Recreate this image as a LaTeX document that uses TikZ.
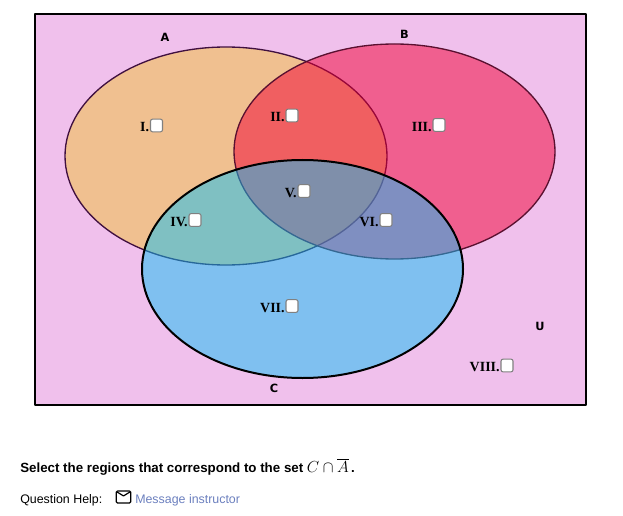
\documentclass[tikz,border=0pt]{standalone}
\usepackage{fontspec}
\setmainfont{Liberation Serif}
\setsansfont{Liberation Sans}
\newfontfamily\setfont{DejaVu Sans}
\usetikzlibrary{positioning}
\definecolor{universe}{RGB}{240,192,236}
\definecolor{setA}{RGB}{240,192,144}
\definecolor{setB}{RGB}{240,0,52}
\definecolor{setC}{RGB}{16,192,244}
\definecolor{edgeA}{RGB}{64,16,64}
\definecolor{edgeB}{RGB}{90,16,48}
\definecolor{boxedge}{RGB}{128,128,128}
\definecolor{helplink}{RGB}{107,127,190}
\tikzset{%
  every tickbox/.style={
    draw=boxedge,
    fill=white,
    rounded corners=1.5pt,
    line width=0.8pt,
    inner sep=0pt,
    minimum width=9pt,
    minimum height=9.5pt
  },
  region label/.style={
    inner sep=0pt,
    text=black,
    font=\rmfamily\bfseries\fontsize{10.5}{12}\selectfont
  },
  set label/.style={
    inner sep=0pt,
    font=\setfont\bfseries\fontsize{8.5}{10}\selectfont
  },
}

\begin{document}
\begin{tikzpicture}[x=0.75pt, y=-0.75pt, line join=round]

\useasboundingbox (0,0) rectangle (623,516);

\fill [universe] (35,14) rectangle (586,405);

\fill [setA] (226,156) ellipse [x radius=161, y radius=109];
\draw [edgeA, line width=1pt] (226,156) ellipse [x radius=161, y radius=109];

\fill [setB, opacity=0.5] (394.5,151.5) ellipse [x radius=160.5, y radius=107.5];
\draw [edgeB, line width=1pt] (394.5,151.5) ellipse [x radius=160.5, y radius=107.5];

\fill [setC, opacity=0.5] (302.5,269) ellipse [x radius=160.5, y radius=109];
\draw [black, line width=1.5pt] (302.5,269) ellipse [x radius=160.5, y radius=109];

\draw [line width=1.5pt] (35,14) rectangle (586,405);

\foreach \s/\x/\y in {A/165/37, B/404.5/34, C/274/388, U/540/326.5}
  \node [set label] (label-\s) at (\x,\y) {\s};

\foreach \n/\x/\y in {I/156.5/125.5, II/292/115.5, III/439/125, IV/195/220,
                      V/304/191, VI/386/220, VII/292/306, VIII/507/365.5}
{
  \node [every tickbox] (box-\n) at (\x,\y) {};
  \node [region label, left=0.4pt of box-\n, yshift=-1.5pt] (roman-\n) {\n.};
}

\node [anchor=base west, inner sep=0pt, font=\sffamily\bfseries\fontsize{10}{12}\selectfont]
  (prompt) at (20,472.5) {Select the regions that correspond to the set
  {\fontsize{12}{14}\selectfont$C\cap\overline{A}$}\,.};

\node [anchor=base west, inner sep=0pt, font=\sffamily\fontsize{9.3}{11}\selectfont]
  (help) at (20,503) {Question Help:};

\node [draw, line width=0.9pt, rounded corners=1pt, inner sep=0pt,
       minimum width=11pt, minimum height=9pt] (envelope) at (123.5,497) {};
\draw [line width=0.9pt] ([shift={(1.3pt,-1.3pt)}]envelope.north west)
  -- ([yshift=0.8pt]envelope.center) -- ([shift={(-1.3pt,-1.3pt)}]envelope.north east);

\node [anchor=base west, inner sep=0pt, text=helplink, font=\sffamily\fontsize{9.3}{11}\selectfont]
  (message) at (135,503) {Message instructor};

\end{tikzpicture}
\end{document}
